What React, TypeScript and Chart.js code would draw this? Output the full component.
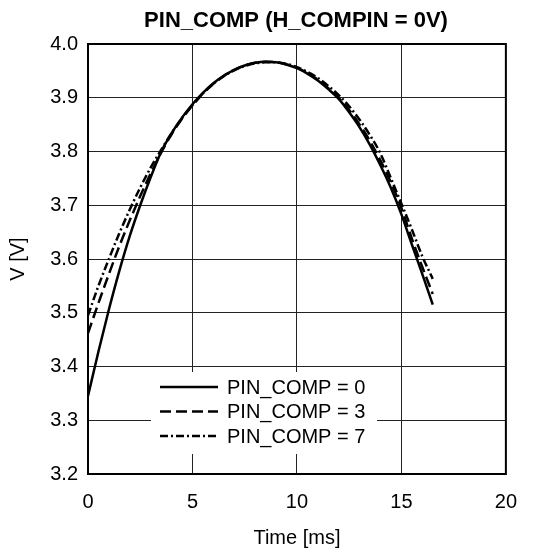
import { useEffect, useRef } from 'react';
import { Chart, registerables } from 'chart.js';

Chart.register(...registerables);

const chartTitle = 'PIN_COMP (H_COMPIN = 0V)';
const xTitle = 'Time [ms]';
const yTitle = 'V [V]';

const times = [0, 0.5, 1, 1.5, 2, 2.5, 3, 3.5, 4, 4.5, 5, 5.5, 6, 6.5, 7, 7.5, 8, 8.5, 9, 9.5, 10, 10.5, 11, 11.5, 12, 12.5, 13, 13.5, 14, 14.5, 15, 15.5, 16, 16.5];

const pinComp0 = [3.345, 3.428, 3.506, 3.578, 3.643, 3.7, 3.752, 3.799, 3.834, 3.863, 3.888, 3.909, 3.927, 3.941, 3.952, 3.96, 3.965, 3.967, 3.966, 3.962, 3.955, 3.945, 3.932, 3.916, 3.898, 3.873, 3.845, 3.812, 3.774, 3.732, 3.683, 3.627, 3.572, 3.515];
const pinComp3 = [3.462, 3.518, 3.572, 3.624, 3.672, 3.717, 3.759, 3.798, 3.832, 3.861, 3.886, 3.908, 3.926, 3.941, 3.952, 3.96, 3.965, 3.967, 3.966, 3.962, 3.956, 3.946, 3.934, 3.918, 3.9, 3.877, 3.85, 3.819, 3.783, 3.742, 3.695, 3.638, 3.585, 3.535];
const pinComp7 = [3.495, 3.55, 3.6, 3.648, 3.692, 3.733, 3.77, 3.803, 3.834, 3.862, 3.886, 3.908, 3.926, 3.94, 3.951, 3.959, 3.964, 3.966, 3.966, 3.963, 3.957, 3.948, 3.937, 3.922, 3.905, 3.884, 3.859, 3.83, 3.796, 3.75, 3.703, 3.655, 3.605, 3.563];

const seriesLabels = ['PIN_COMP = 0', 'PIN_COMP = 3', 'PIN_COMP = 7'];
const seriesDashes = [[], [11, 5], [8, 3, 2, 3]];

const xMin = 0;
const xMax = 20;
const xStep = 5;
const yMin = 3.2;
const yMax = 4.0;
const yStep = 0.1;

const FONT = '"Liberation Sans", Arial, Helvetica, sans-serif';

const frameAndLegend = {
  id: 'frameAndLegend',
  afterLayout(chart: any) {
    // shift the centred title slightly to the right, as in the reference
    const tb = chart.titleBlock;
    if (tb) tb.left = 72;
  },
  afterDatasetsDraw(chart: any) {
    const { ctx, chartArea } = chart;
    const left = chartArea.left;
    const bottom = chartArea.bottom;
    const boxX = left + 63;
    const boxY = bottom - 102;
    const boxW = 226;
    const boxH = 82;
    ctx.save();
    ctx.fillStyle = '#ffffff';
    ctx.fillRect(boxX, boxY, boxW, boxH);
    ctx.font = `20px ${FONT}`;
    ctx.textBaseline = 'middle';
    ctx.textAlign = 'left';
    chart.data.datasets.forEach((ds: any, i: number) => {
      const y = boxY + 15 + i * 24.5;
      ctx.strokeStyle = ds.borderColor;
      ctx.lineWidth = ds.borderWidth;
      ctx.setLineDash(ds.borderDash || []);
      ctx.beginPath();
      ctx.moveTo(boxX + 9, y);
      ctx.lineTo(boxX + 67, y);
      ctx.stroke();
      ctx.setLineDash([]);
      ctx.fillStyle = '#000';
      ctx.fillText(ds.label, boxX + 76, y + 1);
    });
    ctx.restore();
  },
  afterDraw(chart: any) {
    const { ctx, chartArea } = chart;
    ctx.save();
    ctx.strokeStyle = '#000';
    ctx.lineWidth = 2;
    ctx.setLineDash([]);
    ctx.strokeRect(chartArea.left, chartArea.top, chartArea.right - chartArea.left, chartArea.bottom - chartArea.top);
    ctx.restore();
  },
};

export default function App() {
  const canvasRef = useRef<HTMLCanvasElement | null>(null);

  useEffect(() => {
    const canvas = canvasRef.current;
    if (!canvas) return;
    const seriesValues = [pinComp0, pinComp3, pinComp7];
    const chart = new Chart(canvas, {
      type: 'line',
      data: {
        datasets: seriesValues.map((vals, i) => ({
          label: seriesLabels[i],
          data: times.map((t, j) => ({ x: t, y: vals[j] })),
          borderColor: '#000',
          backgroundColor: '#000',
          borderWidth: 2.5,
          borderDash: seriesDashes[i],
          pointRadius: 0,
          fill: false,
          cubicInterpolationMode: 'monotone' as const,
        })),
      },
      options: {
        responsive: false,
        animation: false,
        layout: { padding: { left: 0, right: 13, top: 0, bottom: 0 } },
        plugins: {
          legend: { display: false },
          tooltip: { enabled: false },
          title: {
            display: true,
            text: chartTitle,
            color: '#000',
            font: { family: FONT, size: 22, weight: 'bold' },
            padding: { top: 8, bottom: 9.6 },
          },
        },
        scales: {
          x: {
            type: 'linear',
            min: xMin,
            max: xMax,
            afterFit(scale: any) {
              scale.height = 79;
            },
            ticks: {
              stepSize: xStep,
              color: '#000',
              font: { family: FONT, size: 20 },
              padding: 16,
              maxRotation: 0,
            },
            grid: { color: '#222', lineWidth: 1, drawTicks: false },
            border: { display: false },
            title: {
              display: true,
              text: xTitle,
              color: '#000',
              font: { family: FONT, size: 20 },
              padding: { top: 0, bottom: 3 },
            },
          },
          y: {
            type: 'linear',
            min: yMin,
            max: yMax,
            afterFit(scale: any) {
              scale.width = 88;
            },
            ticks: {
              stepSize: yStep,
              color: '#000',
              font: { family: FONT, size: 20 },
              padding: 10,
              callback: (v: any) => Number(v).toFixed(1),
            },
            grid: { color: '#222', lineWidth: 1, drawTicks: false },
            border: { display: false },
            title: {
              display: true,
              text: yTitle,
              color: '#000',
              font: { family: FONT, size: 20 },
              padding: { top: 6, bottom: 0 },
            },
          },
        },
      },
      plugins: [frameAndLegend],
    });
    return () => chart.destroy();
  }, []);

  return (
    <div style={{ position: 'absolute', left: 0, top: 0, width: 533, height: 553, background: '#fff' }}>
      <canvas ref={canvasRef} width={533} height={553} style={{ width: 533, height: 553 }} />
    </div>
  );
}
